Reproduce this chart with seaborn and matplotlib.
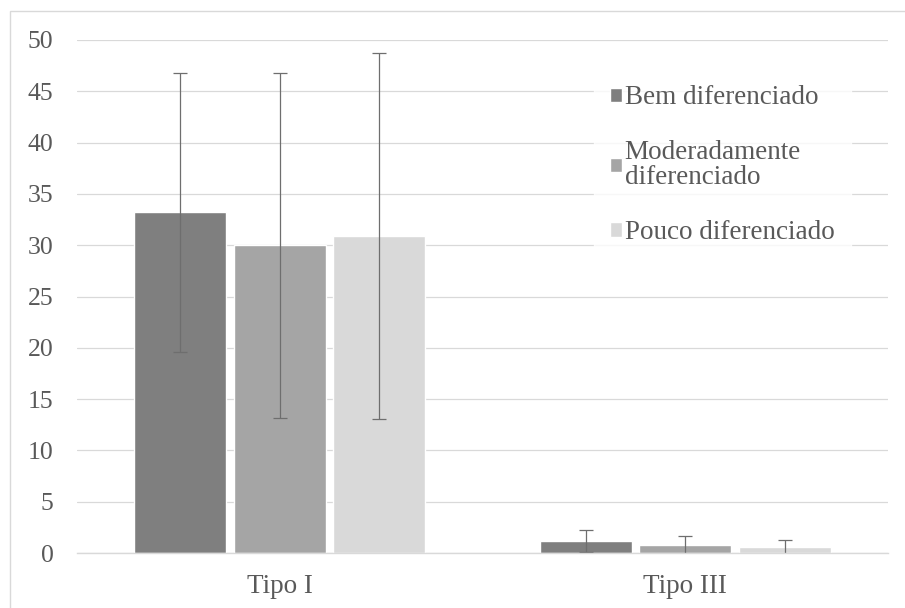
import matplotlib
matplotlib.use("Agg")
import matplotlib.pyplot as plt
from matplotlib.patches import Rectangle
import pandas as pd
import seaborn as sns

# Tumour types on the x axis and differentiation grades as groups
categories = ["Tipo I", "Tipo III"]
grades = ["Bem diferenciado", "Moderadamente\ndiferenciado", "Pouco diferenciado"]

# Mean values per grade (one entry per category)
bem_mean = [33.2, 1.15]
mod_mean = [30.0, 0.8]
pouco_mean = [30.9, 0.55]

# Symmetric error (standard deviation) per grade
bem_err = [13.6, 1.1]
mod_err = [16.8, 0.9]
pouco_err = [17.8, 0.7]

y_ticks = [0, 5, 10, 15, 20, 25, 30, 35, 40, 45, 50]
colors = ["#7f7f7f", "#a5a5a5", "#d9d9d9"]

means = [bem_mean, mod_mean, pouco_mean]
errors = [bem_err, mod_err, pouco_err]

df = pd.DataFrame({
    "categoria": [c for _ in grades for c in categories],
    "grau": [g for g in grades for _ in categories],
    "valor": [v for m in means for v in m],
})

sns.set_theme(style="white")
plt.rcParams["font.family"] = ["Liberation Serif", "DejaVu Serif"]

fig = plt.figure(figsize=(9.05, 6.08), dpi=100)
ax = fig.add_axes([77 / 905, 55 / 608, 811 / 905, 513 / 608])

sns.barplot(data=df, x="categoria", y="valor", hue="grau", order=categories,
            hue_order=grades, palette=colors, width=0.735, gap=0.075,
            saturation=1, errorbar=None, ax=ax, zorder=2)

# Error bars centred on each drawn bar
for container, err in zip(ax.containers, errors):
    for patch, e in zip(container.patches, err):
        xc = patch.get_x() + patch.get_width() / 2
        ax.errorbar(xc, patch.get_height(), yerr=e, fmt="none",
                    ecolor="#6e6e6e", elinewidth=0.9, capsize=4.7,
                    capthick=0.9, zorder=3)

ax.set_xlim(-0.5, 1.5)
ax.set_ylim(0, 50)
ax.set_yticks(y_ticks)
ax.set_yticklabels([str(t) for t in y_ticks])
ax.set_xlabel("")
ax.set_ylabel("")

ax.grid(axis="y", color="#d9d9d9", linewidth=0.9, zorder=0)
ax.set_axisbelow(True)
for side in ["left", "right", "top"]:
    ax.spines[side].set_visible(False)
ax.spines["bottom"].set_color("#d9d9d9")
ax.spines["bottom"].set_linewidth(1.0)
ax.spines["bottom"].set_zorder(4)

ax.tick_params(axis="y", length=0, pad=17, labelsize=18.5, labelcolor="#595959")
ax.tick_params(axis="x", length=0, pad=15, labelsize=19.5, labelcolor="#595959")

handles, labels = ax.get_legend_handles_labels()
leg = ax.legend(handles, labels, loc="upper left",
                bbox_to_anchor=(0.637, 0.943), frameon=True,
                fontsize=19.5, handlelength=0.44, handleheight=0.44,
                handletextpad=0.11, labelspacing=1.1, borderpad=0.6,
                borderaxespad=0, fancybox=False)
leg.get_frame().set_facecolor("white")
leg.get_frame().set_edgecolor("white")
for t in leg.get_texts():
    t.set_color("#595959")
    t.set_linespacing(1.0)

# Chart-area outline
fig.patches.append(Rectangle((10 / 905, -0.1), 1.0, (598 + 60) / 608,
                             transform=fig.transFigure, fill=False,
                             edgecolor="#d9d9d9", linewidth=1.0))

fig.savefig("out.png", dpi=100, facecolor="white")
